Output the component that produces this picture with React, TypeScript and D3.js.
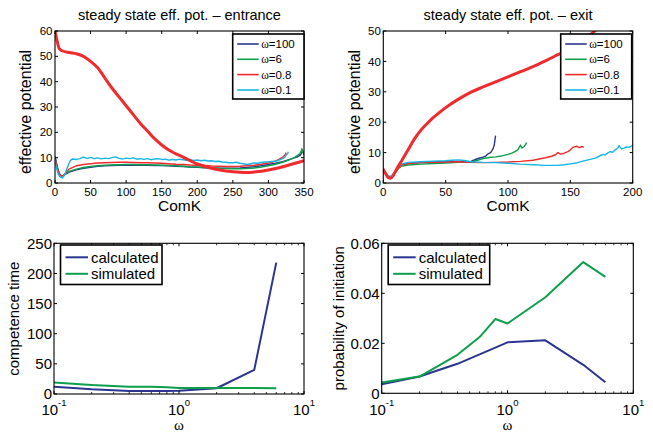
import React from "react";
import * as d3 from "d3";

type Pt = [number, number];

// ---------- top-left: steady state eff. pot. - entrance ----------
const entW100: Pt[] = [[0,10.5],[2,8],[4,5.5],[6,3.8],[8,3],[10,2.8],[12,3],[15,3.5],[20,4.3],[30,5.2],[40,5.8],[50,6.2],[60,6.6],[70,6.8],[80,6.9],[90,7.0],[100,7.0],[110,7.1],[120,7.0],[130,7.0],[140,6.9],[150,6.9],[160,6.8],[170,6.6],[180,6.5],[190,6.3],[200,6.2],[210,6.0],[220,5.9],[230,5.8],[240,5.8],[250,5.8],[260,5.9],[270,6.1],[280,6.4],[290,6.8],[300,7.3],[310,7.8],[320,8.4],[330,9.3],[335,9.8],[340,10.2],[345,11],[348,13],[350,11]];
const entW6: Pt[] = [[0,10],[3,6],[6,3.5],[9,2.8],[12,3],[15,3.8],[20,4.6],[30,5.5],[40,6.1],[50,6.5],[60,6.8],[70,7.0],[80,7.1],[90,7.2],[100,7.3],[110,7.3],[120,7.2],[130,7.2],[140,7.1],[150,7.0],[160,6.9],[170,6.8],[180,6.6],[190,6.4],[200,6.3],[210,6.1],[220,6.0],[230,5.8],[240,5.7],[250,5.6],[260,5.6],[270,5.7],[280,5.9],[290,6.3],[300,6.8],[310,7.4],[320,8.2],[330,9.2],[335,9.8],[340,10.7],[344,11.5],[346,12.5],[347,13.5],[348,12]];
const entW08: Pt[] = [[0,10],[3,6],[6,3.5],[9,2.8],[12,3],[15,4],[20,5.5],[25,6.2],[30,6.8],[40,7.3],[50,7.6],[60,7.9],[70,8],[80,8.1],[90,8.2],[100,8.2],[110,8.1],[120,8.0],[130,8.0],[140,7.9],[150,7.8],[160,7.6],[170,7.4],[180,7.3],[190,7.1],[200,7.0],[210,6.9],[220,6.7],[230,6.6],[240,6.5],[250,6.5],[260,6.6],[270,6.8],[280,7.0],[290,7.4],[300,7.9],[305,8.2],[310,8.7],[315,9.3],[320,10.2],[323,11],[325,12]];
const entW01: Pt[] = [[0,9],[2,6],[4,4],[6,2.8],[8,2.2],[10,2],[12,2.5],[14,3.5],[16,5],[18,6.5],[20,8],[22,9],[25,9.5],[30,9.3],[35,9.6],[40,10.2],[45,9.7],[50,10.1],[55,9.6],[60,9.9],[65,9.5],[70,9.8],[75,9.6],[80,10.0],[85,10.3],[90,9.7],[95,9.5],[100,9.8],[105,9.6],[110,9.9],[115,9.4],[120,9.6],[125,9.3],[130,9.6],[135,9.2],[140,9.5],[145,9.6],[150,9.3],[155,9.4],[160,9.0],[165,9.3],[170,9.1],[175,9.4],[180,9.2],[185,9.0],[190,9.2],[195,8.9],[200,9.1],[205,8.8],[210,9.0],[215,8.7],[220,8.8],[225,8.5],[230,8.6],[235,8.3],[240,8.2],[245,8.0],[250,8.0],[255,8.2],[260,7.8],[265,7.6],[270,7.3],[275,7.6],[280,7.9],[285,7.8],[290,8.1],[295,8.3],[300,8.3],[305,8.5],[310,8.6],[315,9.0],[320,9.6],[323,10.2],[325,11],[327,11.6],[328,12.3]];
const entThick: Pt[] = [[0,60],[3,56],[6,53],[10,52.2],[20,51.5],[30,51],[40,50],[50,48],[60,45.5],[70,41.5],[80,37.5],[90,34],[100,30.5],[110,27],[120,23.5],[130,20.5],[140,17.5],[150,15],[160,13],[170,11.5],[180,10.2],[190,8.8],[200,7.5],[210,6.6],[220,5.8],[230,5.2],[240,4.7],[250,4.4],[260,4.2],[270,4.1],[280,4.3],[290,4.6],[300,5.1],[310,5.7],[320,6.4],[330,7.2],[340,8],[350,8.8]];

// ---------- top-right: steady state eff. pot. - exit ----------
const exW100: Pt[] = [[0,4.3],[2,3],[4,2.2],[6,2],[8,2.6],[10,3.8],[12,5],[15,6],[20,6.4],[30,6.7],[40,6.9],[50,7.0],[60,7.1],[65,7.1],[70,7.0],[72,7.4],[75,7.9],[78,8.3],[80,8.5],[82,8.8],[84,9.6],[86,10.0],[87,10.6],[88,11.3],[89,12.5],[90,15.6]];
const exW6: Pt[] = [[0,4.2],[2,3],[4,2.2],[6,2],[8,2.7],[10,3.8],[12,4.8],[15,5.6],[20,5.9],[30,6.2],[40,6.4],[50,6.6],[60,6.8],[70,6.9],[75,7.4],[80,8.0],[85,8.4],[90,8.6],[95,8.9],[100,9.4],[103,9.8],[106,10.4],[108,11],[110,12.5],[111,11.5],[113,12],[115,13.3]];
const exW08: Pt[] = [[0,4.2],[2,3],[4,2.2],[6,2],[8,2.6],[10,3.6],[12,4.8],[15,6],[20,6.4],[30,6.7],[40,6.8],[50,6.9],[60,7.0],[70,6.8],[80,6.7],[90,6.8],[100,6.9],[110,7.1],[120,7.5],[125,7.9],[130,8.3],[135,8.8],[138,9.3],[140,10],[142,9.5],[145,9.8],[148,10.3],[150,10.9],[152,11.7],[155,12.1],[157,11.6],[159,12],[161,11.8]];
const exW01: Pt[] = [[0,4],[2,3],[4,2.3],[6,2.2],[8,3],[10,4.2],[12,5.3],[15,6.3],[20,6.8],[30,7.0],[40,7.2],[50,7.3],[55,7.5],[60,7.6],[65,7.4],[70,7.0],[80,6.8],[90,6.7],[100,6.5],[110,6.2],[120,6.0],[130,5.8],[140,5.8],[145,6.0],[150,6.3],[155,6.6],[160,7.2],[165,7.7],[170,8.2],[173,8.8],[176,9.4],[178,9.2],[180,9.9],[182,10.3],[184,10.1],[186,10.9],[188,11.5],[189,12.3],[191,11.2],[193,11.5],[195,11.9],[197,11.7],[200,12.4]];
const exThick: Pt[] = [[0,4.5],[2,3],[4,1.8],[6,1.6],[8,2.5],[10,4],[12,5.5],[15,7.5],[20,11],[25,14.5],[30,17.3],[35,19.5],[40,21.5],[45,23.2],[50,24.8],[60,27.5],[70,29.8],[80,31.6],[90,33.3],[100,34.9],[110,36.6],[120,38.3],[130,40.2],[140,42.2],[150,44.2],[160,46.7],[170,50.2],[175,52]];

const legendOmega = ["ω=100", "ω=6", "ω=0.8", "ω=0.1"];

// ---------- bottom panels ----------
const omega = [0.1, 0.2, 0.4, 0.6, 0.8, 1, 2, 4, 6];
const compCalculated = [12, 7.7, 5, 5, 5, 5.5, 9.5, 40, 218];
const compSimulated = [19, 15, 12, 12, 11, 10, 10, 10, 9.5];
const probCalculated = [0.0036, 0.0067, 0.0118, 0.0156, 0.0183, 0.0204, 0.0212, 0.0114, 0.0044];
const probSimulated = [0.0043, 0.0067, 0.0154, 0.0225, 0.0297, 0.0279, 0.0384, 0.0525, 0.0466];
const legendCalc = ["calculated", "simulated"];

const entXTicks = [0, 50, 100, 150, 200, 250, 300, 350];
const entYTicks = [0, 10, 20, 30, 40, 50, 60];
const exXTicks = [0, 50, 100, 150, 200];
const exYTicks = [0, 10, 20, 30, 40, 50];
const logTicks = [0.1, 1, 10];
const compYTicks = [0, 50, 100, 150, 200, 250];
const probYTicks = [0, 0.02, 0.04, 0.06];

const BLUE = "#2b3590";
const GREEN = "#0c9f4c";
const RED = "#ef2b2d";
const CYAN = "#17b4e6";
const SANS = "'Liberation Sans', Arial, Helvetica, sans-serif";
const SERIF = "'Liberation Serif', 'Times New Roman', serif";

function Omega({ text }: { text: string }) {
  const rest = text.slice(1);
  return (
    <>
      <tspan fontFamily={SERIF}>ω</tspan>
      <tspan>{rest}</tspan>
    </>
  );
}

function LinearFrame(props: {
  x0: number; x1: number; y0: number; y1: number;
  xs: d3.ScaleLinear<number, number>; ys: d3.ScaleLinear<number, number>;
  xt: number[]; yt: number[]; tickFont: number; xLabY: number;
}) {
  const { x0, x1, y0, y1, xs, ys, xt, yt, tickFont, xLabY } = props;
  const tl = 3;
  return (
    <g>
      {xt.map((t) => (
        <g key={"x" + t}>
          <line x1={xs(t)} x2={xs(t)} y1={y1} y2={y1 - tl} stroke="#000" />
          <line x1={xs(t)} x2={xs(t)} y1={y0} y2={y0 + tl} stroke="#000" />
          <text x={xs(t)} y={xLabY} textAnchor="middle" fontSize={tickFont} fontFamily={SANS}>{t}</text>
        </g>
      ))}
      {yt.map((t) => (
        <g key={"y" + t}>
          <line x1={x0} x2={x0 + tl} y1={ys(t)} y2={ys(t)} stroke="#000" />
          <line x1={x1} x2={x1 - tl} y1={ys(t)} y2={ys(t)} stroke="#000" />
          <text x={x0 - 2.5} y={ys(t)} dy="0.36em" textAnchor="end" fontSize={tickFont} fontFamily={SANS}>{t}</text>
        </g>
      ))}
      <rect x={x0} y={y0} width={x1 - x0} height={y1 - y0} fill="none" stroke="#000" strokeWidth={1.1} />
    </g>
  );
}

function TopPanel(props: {
  id: string; x0: number; x1: number; xMax: number; yMax: number; xt: number[]; yt: number[];
  title: string; thin: Pt[][]; thick: Pt[]; legX: number; legW: number; yLabX: number;
}) {
  const { id, x0, x1, xMax, yMax, xt, yt, title, thin, thick, legX, legW, yLabX } = props;
  const y0 = 31, y1 = 183;
  const xs = d3.scaleLinear().domain([0, xMax]).range([x0, x1]);
  const ys = d3.scaleLinear().domain([0, yMax]).range([y1, y0]);
  const line = d3.line<Pt>().x((d) => xs(d[0])).y((d) => ys(d[1]));
  const smooth = d3.line<Pt>().x((d) => xs(d[0])).y((d) => ys(d[1])).curve(d3.curveMonotoneX);
  const colors = [BLUE, GREEN, RED, CYAN];
  const legY = 34, legH = 65;
  const rowY = [44, 59.3, 74.6, 90];
  return (
    <g>
      <defs>
        <clipPath id={id}>
          <rect x={x0} y={y0} width={x1 - x0} height={y1 - y0} />
        </clipPath>
      </defs>
      <text x={(x0 + x1) / 2} y={20} textAnchor="middle" fontSize={14.5} fontFamily={SANS}>{title}</text>
      <g clipPath={`url(#${id})`}>
        {thin.map((s, i) => (
          <path key={i} d={line(s) || ""} fill="none" stroke={colors[i]} strokeWidth={1.4} strokeLinejoin="round" />
        ))}
        <path d={smooth(thick) || ""} fill="none" stroke={RED} strokeWidth={3} strokeLinejoin="round" strokeLinecap="round" />
      </g>
      <LinearFrame x0={x0} x1={x1} y0={y0} y1={y1} xs={xs} ys={ys} xt={xt} yt={yt} tickFont={11.5} xLabY={195.5} />
      <text x={(x0 + x1) / 2} y={211} textAnchor="middle" fontSize={15.5} fontFamily={SANS}>ComK</text>
      <text transform={`translate(${yLabX},${(y0 + y1) / 2 + 5}) rotate(-90)`} textAnchor="middle" fontSize={16} fontFamily={SANS}>effective potential</text>
      <rect x={legX} y={legY} width={legW} height={legH} fill="#fff" stroke="#000" strokeWidth={1.6} />
      {legendOmega.map((l, i) => (
        <g key={l}>
          <line x1={legX + 4.5} x2={legX + 26} y1={rowY[i]} y2={rowY[i]} stroke={colors[i]} strokeWidth={1.6} />
          <text x={legX + 28.5} y={rowY[i]} dy="0.36em" fontSize={11.5} fontFamily={SANS}><Omega text={l} /></text>
        </g>
      ))}
    </g>
  );
}

function BottomPanel(props: {
  x0: number; x1: number; y1: number; yMax: number; yt: number[]; calc: number[]; sim: number[];
  yLabel: string; yLabX: number; fmt: (v: number) => string;
}) {
  const { x0, x1, y1, yMax, yt, calc, sim, yLabel, yLabX, fmt } = props;
  const y0 = 243.3;
  const xs = d3.scaleLog().domain([0.1, 10]).range([x0, x1]);
  const ys = d3.scaleLinear().domain([0, yMax]).range([y1, y0]);
  const line = d3.line<number>().x((_, i) => xs(omega[i])).y((d) => ys(d));
  const minor: number[] = [];
  [0.1, 1].forEach((dec) => { for (let k = 2; k <= 9; k++) minor.push(dec * k); });
  const tl = 3;
  const legX = x0 + 6.5, legY = 245, legW = 101.5, legH = 39.5;
  const rows = [257.3, 273.8];
  return (
    <g>
      <path d={line(calc) || ""} fill="none" stroke={BLUE} strokeWidth={2} strokeLinejoin="round" />
      <path d={line(sim) || ""} fill="none" stroke={GREEN} strokeWidth={2} strokeLinejoin="round" />
      {logTicks.map((t, i) => (
        <g key={"x" + t}>
          <line x1={xs(t)} x2={xs(t)} y1={y1} y2={y1 - tl} stroke="#000" />
          <line x1={xs(t)} x2={xs(t)} y1={y0} y2={y0 + tl} stroke="#000" />
          <text x={xs(t)} y={415} textAnchor="middle" fontSize={15} fontFamily={SANS}>
            10<tspan fontSize={9.5} dy={-9}>{i === 0 ? "-1" : String(i - 1)}</tspan>
          </text>
        </g>
      ))}
      {minor.map((t) => (
        <g key={"m" + t}>
          <line x1={xs(t)} x2={xs(t)} y1={y1} y2={y1 - 2} stroke="#000" strokeWidth={0.8} />
          <line x1={xs(t)} x2={xs(t)} y1={y0} y2={y0 + 2} stroke="#000" strokeWidth={0.8} />
        </g>
      ))}
      {yt.map((t) => (
        <g key={"y" + t}>
          <line x1={x0} x2={x0 + tl} y1={ys(t)} y2={ys(t)} stroke="#000" />
          <line x1={x1} x2={x1 - tl} y1={ys(t)} y2={ys(t)} stroke="#000" />
          <text x={x0 - 2} y={ys(t)} dy="0.36em" textAnchor="end" fontSize={15} fontFamily={SANS}>{fmt(t)}</text>
        </g>
      ))}
      <rect x={x0} y={y0} width={x1 - x0} height={y1 - y0} fill="none" stroke="#000" strokeWidth={1.1} />
      <text x={(x0 + x1) / 2} y={429.5} textAnchor="middle" fontSize={15} fontFamily={SERIF}>ω</text>
      <text transform={`translate(${yLabX},${(y0 + y1) / 2}) rotate(-90)`} textAnchor="middle" fontSize={15} fontFamily={SANS}>{yLabel}</text>
      <rect x={legX} y={legY} width={legW} height={legH} fill="#fff" stroke="#000" strokeWidth={1.6} />
      {legendCalc.map((l, i) => (
        <g key={l}>
          <line x1={legX + 5} x2={legX + 27.5} y1={rows[i]} y2={rows[i]} stroke={i === 0 ? BLUE : GREEN} strokeWidth={2} />
          <text x={legX + 30.5} y={rows[i]} dy="0.36em" fontSize={15} fontFamily={SANS}>{l}</text>
        </g>
      ))}
    </g>
  );
}

export default function App() {
  return (
    <svg width={653} height={432} viewBox="0 0 653 432" style={{ position: "absolute", left: 0, top: 0, background: "#fff" }}>
      <rect x={0} y={0} width={653} height={432} fill="#fff" />
      <TopPanel id="clipEnt" x0={55} x1={304} xMax={350} yMax={60} xt={entXTicks} yt={entYTicks}
        title="steady state eff. pot. – entrance" thin={[entW100, entW6, entW08, entW01]} thick={entThick}
        legX={232.7} legW={71.3} yLabX={31} />
      <TopPanel id="clipExit" x0={383.3} x1={632.7} xMax={200} yMax={50} xt={exXTicks} yt={exYTicks}
        title="steady state eff. pot. – exit" thin={[exW100, exW6, exW08, exW01]} thick={exThick}
        legX={560.7} legW={71} yLabX={360} />
      <BottomPanel x0={54} x1={304} y1={394} yMax={250} yt={compYTicks} calc={compCalculated} sim={compSimulated}
        yLabel="competence time" yLabX={19} fmt={(v) => String(v)} />
      <BottomPanel x0={381.7} x1={633.3} y1={393.3} yMax={0.06} yt={probYTicks} calc={probCalculated} sim={probSimulated}
        yLabel="probability of initiation" yLabX={344} fmt={(v) => (v === 0 ? "0" : v.toFixed(2))} />
    </svg>
  );
}
